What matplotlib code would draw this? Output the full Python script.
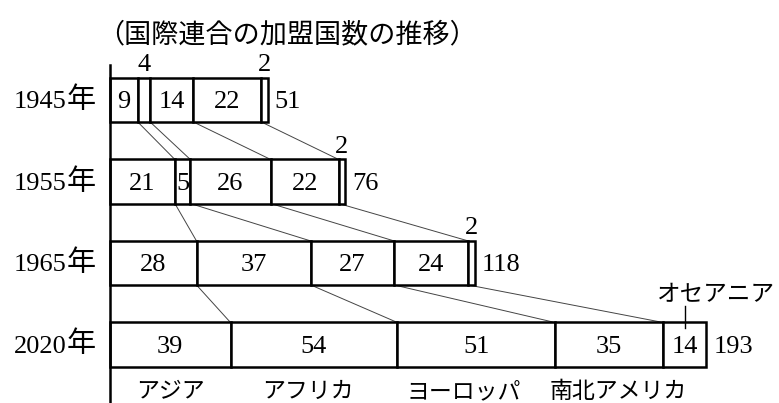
import matplotlib
matplotlib.use('Agg')
import matplotlib.pyplot as plt
import numpy as np

# 国際連合の加盟国数の推移
years = ['1945', '1955', '1965', '2020']
regions = ['アジア', 'アフリカ', 'ヨーロッパ', '南北アメリカ', 'オセアニア']
asia = [9, 21, 28, 39]
africa = [4, 5, 37, 54]
europe = [14, 26, 27, 51]
america = [22, 22, 24, 35]
oceania = [2, 2, 2, 14]
totals = [51, 76, 118, 193]

SERIF = ['Liberation Serif', 'Noto Sans CJK JP']
GOTHIC = ['Noto Sans CJK JP', 'DejaVu Sans']

fig = plt.figure(figsize=(7.79, 4.03), dpi=100)
ax = fig.add_axes([0, 0, 1, 1])
s = 3.09  # px per country
ax.set_xlim(-110 / s, (779 - 110) / s)
ax.set_ylim((403 - 100) / 81.5, -100 / 81.5)
ax.axis('off')

data = np.array([asia, africa, europe, america, oceania])
cum = np.vstack([np.zeros(len(years)), np.cumsum(data, axis=0)])
rows = np.arange(len(years))
h = 0.54

for k in range(len(regions)):
    ax.barh(rows, data[k], left=cum[k], height=h, color='white',
            edgecolor='black', linewidth=1.8, zorder=2)
    for i in rows:
        v = data[k][i]
        xc = cum[k][i] + v / 2
        if v >= 5:
            ax.text(xc, i + 0.03, str(v), ha='center', va='center',
                    fontsize=19, family=SERIF, zorder=3)
        else:
            ax.text(xc, i - h / 2 - 0.02, str(v), ha='center', va='bottom',
                    fontsize=19, family=SERIF, zorder=3)

# 連結線
for i in rows[:-1]:
    for k in range(1, 5):
        ax.plot([cum[k][i], cum[k][i + 1]], [i + h / 2, i + 1 - h / 2],
                color='#444444', linewidth=0.7, zorder=1)

# 合計と年
for i in rows:
    ax.text(totals[i] + 2.3, i + 0.03, str(totals[i]), ha='left', va='center',
            fontsize=19, family=SERIF)
    ax.text(-14.0, i + 0.03, years[i], ha='right', va='center',
            fontsize=19, family=SERIF)
    ax.text(-14.0, i + 0.0, '年', ha='left', va='center',
            fontsize=21, family=GOTHIC)

# 縦軸
ax.plot([0, 0], [-0.43, 3.72], color='black', linewidth=1.8, zorder=3)

# 地域名（2020年の区分の下）
last = rows[-1]
shift = [0, -2, -4, 3]
for k in range(4):
    xc = cum[k][last] + data[k][last] / 2 + shift[k]
    ax.text(xc, 3.58, regions[k], ha='center', va='center', fontsize=16.5,
            family=GOTHIC)
xo = cum[4][last] + data[4][last] / 2
ax.plot([xo, xo], [last - h / 2 - 0.2, last - h / 2 + 0.07], color='black',
        linewidth=1.0)
ax.text(xo + 10, last - h / 2 - 0.34, regions[4], ha='center', va='center',
        fontsize=17, family=GOTHIC)

fig.text(97 / 779, 1 - 35 / 403, '（国際連合の加盟国数の推移）', ha='left',
         va='center', fontsize=19.5, family=GOTHIC)

fig.savefig('out.png', dpi=100)
